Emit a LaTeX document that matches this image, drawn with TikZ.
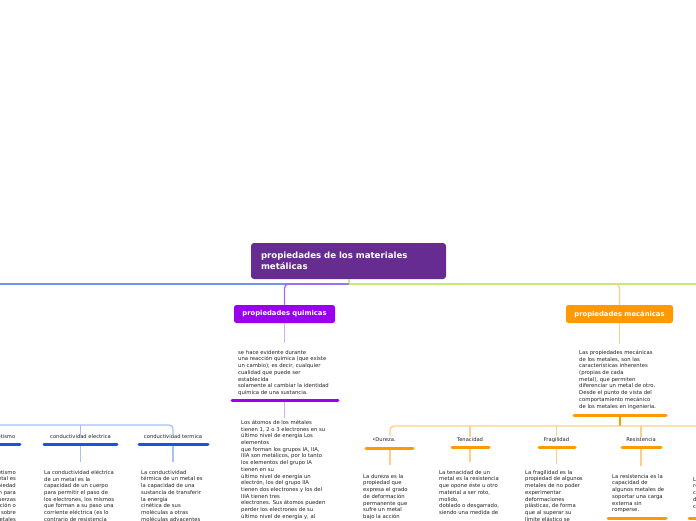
\documentclass[tikz,border=0pt]{standalone}
\usepackage{fontspec}
\setmainfont{DejaVu Sans}
\definecolor{rootc}{RGB}{102,44,145}
\definecolor{chemc}{RGB}{153,0,240}
\definecolor{chemline}{RGB}{176,96,255}
\definecolor{chemlight}{RGB}{218,170,250}
\definecolor{mechc}{RGB}{255,153,0}
\definecolor{mechlight}{RGB}{255,206,140}
\definecolor{bluemain}{RGB}{112,148,236}
\definecolor{bluelight}{RGB}{168,192,242}
\definecolor{bluebar}{RGB}{30,80,225}
\definecolor{greenl}{RGB}{196,234,116}
\definecolor{textc}{RGB}{30,30,30}
\begin{document}
\begin{tikzpicture}[x=1pt,y=-1pt,
  body/.style={anchor=north west, inner sep=0pt, align=left, font=\fontsize{5.3}{6.7}\selectfont, text=textc},
  bodyr/.style={anchor=north east, inner sep=0pt, align=right, font=\fontsize{5.3}{6.7}\selectfont, text=textc},
  lbl/.style={inner sep=0pt, font=\fontsize{5.2}{6}\selectfont, text=textc},
  topic/.style={rounded corners=2.5pt, inner sep=0pt, minimum height=18pt, text=white, font=\fontsize{6.8}{8}\selectfont\bfseries},
  bar/.style={line width=3pt, line cap=round},
  thin/.style={line width=1.3pt},
]
\useasboundingbox (0,0) rectangle (696,520);
\clip (0,0) rectangle (696,520);

% root
\node[fill=rootc, rounded corners=3pt, text width=175pt, inner xsep=10pt, inner ysep=0pt, minimum height=36pt,
      align=left, text=white, font=\fontsize{8.6}{11.5}\selectfont\bfseries] (root) at (348.5,261)
  {propiedades de los materiales\\metálicas};

\coordinate (j) at (349,284);
\coordinate (bluend) at (-5,284);
\coordinate (greenend) at (700,284);

% main branch lines
\draw[thin, bluemain] (j) -- (bluend);
\draw[thin, greenl] (j) -- (greenend);
\draw[thin, greenl] (root.south -| j) -- (j);

% topic boxes
\node[topic, fill=chemc, minimum width=101pt] (chem) at (284.5,314) {propiedades quimicas};
\node[topic, fill=mechc, minimum width=107pt] (mech) at (619.5,314) {propiedades mecánicas};

\draw[thin, chemline, rounded corners=4pt] (j) -- (chem.north |- j) -- (chem.north);
\draw[thin, mechlight, rounded corners=4pt] ([xshift=-6pt]mech.north |- j) -- (mech.north |- j) -- (mech.north);

% chemical texts
\node[body] (ct1) at (238,350) {se hace evidente durante\\una reacción química (que existe\\un cambio); es decir, cualquier\\cualidad que puede ser\\establecida\\solamente al cambiar la identidad\\química de una sustancia.};
\draw[thin, chemlight, shorten >=7pt] (chem.south) -- (chem.south |- ct1.north);
\coordinate (cb1) at (232,400);
\coordinate (cb2) at (338,400);
\draw[bar, chemc] (cb1) -- (cb2);
\node[body] (ct2) at (241,420) {Los átomos de los métales\\tienen 1, 2 o 3 electrones en su\\último nivel de energía Los\\elementos\\que forman los grupos IA, IIA,\\IIIA son metálicos, por lo tanto\\los elementos del grupo IA\\tienen en su\\último nivel de energía un\\electrón, los del grupo IIA\\tienen dos electrones y los del\\IIIA tienen tres\\electrones. Sus átomos pueden\\perder los electrones de su\\último nivel de energía y, al};
\draw[thin, chemlight, shorten <=2pt, shorten >=2pt] (chem.south |- cb1) -- (chem.south |- ct2.north);

% mechanical texts
\node[body] (mt1) at (579,350) {Las propiedades mecánicas\\de los metales, son las\\características inherentes\\(propias de cada\\metal), que permiten\\diferenciar un metal de otro.\\Desde el punto de vista del\\comportamiento mecánico\\de los metales en ingeniería.};
\draw[thin, mechlight, shorten >=6pt] (mech.south) -- (mech.south |- mt1.north);
\coordinate (mb1) at (574,415);
\coordinate (mb2) at (666,415);
\draw[bar, mechc] (mb1) -- (mb2);

\coordinate (oh) at (619.5,426);
\coordinate (ohend) at (700,426);
\draw[line width=2pt, mechc] (mech.south |- mb1) -- (oh);

% mechanical children labels
\node[lbl] (dur) at (384,440) {•Dureza.};
\node[lbl] (ten) at (470,440) {Tenacidad};
\node[lbl] (fra) at (556.5,440) {Fragilidad};
\node[lbl] (res) at (641,440) {Resistencia};
\coordinate (dc) at (390,426);
\coordinate (dlab) at (390,436);
\draw[thin, mechlight, rounded corners=4pt] (ohend) -- (dc) -- (dlab);
\draw[thin, mechlight, shorten >=1pt] (ten.north |- oh) -- (ten.north);
\draw[thin, mechlight, shorten >=1pt] (fra.north |- oh) -- (fra.north);
\draw[thin, mechlight, shorten >=1pt] (res.north |- oh) -- (res.north);

\coordinate (db1) at (366,448); \coordinate (db2) at (413,448);
\coordinate (tb1) at (452,447); \coordinate (tb2) at (489,447);
\coordinate (fb1) at (539,447); \coordinate (fb2) at (575,447);
\coordinate (rb1) at (622,447); \coordinate (rb2) at (661,447);
\draw[bar, mechc] (db1) -- (db2);
\draw[bar, mechc] (tb1) -- (tb2);
\draw[bar, mechc] (fb1) -- (fb2);
\draw[bar, mechc] (rb1) -- (rb2);

\node[body] (dtx) at (363,474) {La dureza es la\\propiedad que\\expresa el grado\\de deformación\\permanente que\\sufre un metal\\bajo la acción};
\node[body] (ttx) at (439,470) {La tenacidad de un\\metal es la resistencia\\que opone éste u otro\\material a ser roto,\\molido,\\doblado o desgarrado,\\siendo una medida de};
\node[body] (ftx) at (525,470) {La fragilidad es la\\propiedad de algunos\\metales de no poder\\experimentar\\deformaciones\\plásticas, de forma\\que al superar su\\límite elástico se};
\node[body] (rtx) at (612,474) {La resistencia es la\\capacidad de\\algunos metales de\\soportar una carga\\externa sin\\romperse.};
\node[body] (xtx) at (693,477) {La maleabilidad\\resistencia\\capacidad\\de los metales\\con};

\draw[thin, mechlight] (390,450) -- (390,465);
\draw[thin, mechlight, shorten <=2pt, shorten >=8pt] (ten.south |- tb1) -- (ten.south |- ttx.north);
\draw[thin, mechlight, shorten <=2pt, shorten >=6pt] (fra.south |- fb1) -- (fra.south |- ftx.north);
\draw[thin, mechlight, shorten <=2pt, shorten >=8pt] (res.south |- rb1) -- (res.south |- rtx.north);

\coordinate (rr1) at (608,518); \coordinate (rr2) at (666,518);
\coordinate (xr1) at (689,518); \coordinate (xr2) at (720,518);
\draw[bar, mechc] (rr1) -- (rr2);
\draw[bar, mechc] (xr1) -- (xr2);

% blue children
\node[lbl] (mag) at (-1,437) {magnetismo};
\node[lbl] (ele) at (80.5,437) {conductividad electrica};
\node[lbl] (ter) at (173,437) {conductividad termica};
\coordinate (bh) at (-5,425);
\draw[thin, bluelight, rounded corners=4pt] (bh) -- (ter.north |- bh) -- ([yshift=-1pt]ter.north);
\draw[thin, bluelight] (ele.north |- bh) -- ([yshift=-1pt]ele.north);

\coordinate (mgb1) at (-40,444); \coordinate (mgb2) at (20,444);
\coordinate (eb1) at (44,444); \coordinate (eb2) at (117,444);
\coordinate (teb1) at (139,444); \coordinate (teb2) at (208,444);
\draw[bar, bluebar] (mgb1) -- (mgb2);
\draw[bar, bluebar] (eb1) -- (eb2);
\draw[bar, bluebar] (teb1) -- (teb2);

\node[bodyr] (mtx) at (16,470) {El magnetismo\\de un metal es\\la propiedad\\que tienen para\\ejercer fuerzas\\de atracción o\\repulsión sobre\\otros metales};
\node[body] (etx) at (44,470) {La conductividad eléctrica\\de un metal es la\\capacidad de un cuerpo\\para permitir el paso de\\los electrones, los mismos\\que forman a su paso una\\corriente eléctrica (es lo\\contrario de resistencia};
\node[body] (tetx) at (141,470) {La conductividad\\térmica de un metal es\\la capacidad de una\\sustancia de transferir\\la energía\\cinética de sus\\moléculas a otras\\moléculas adyacentes};

\draw[thin, bluelight, shorten <=2pt, shorten >=8pt] (ele.south |- eb1) -- (ele.south |- etx.north);
\draw[thin, bluelight, shorten <=2pt, shorten >=8pt] (ter.south |- teb1) -- (ter.south |- tetx.north);
\end{tikzpicture}
\end{document}
